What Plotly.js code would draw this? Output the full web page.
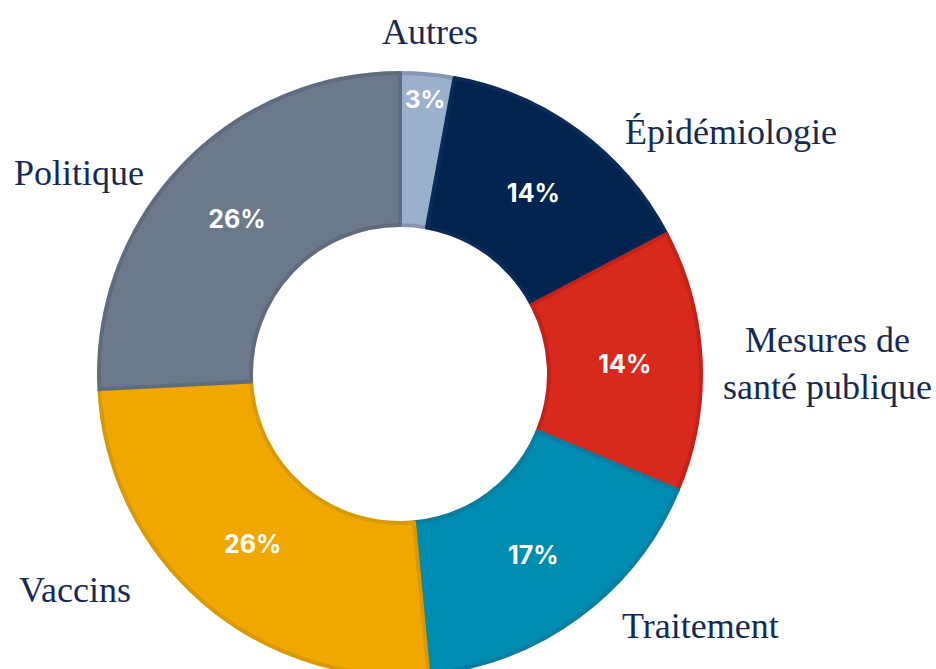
<!DOCTYPE html>
<html>
<head>
<meta charset="utf-8">
<script src="https://cdn.plot.ly/plotly-3.0.1.min.js"></script>
<style>
html,body{margin:0;padding:0;overflow:hidden;background:#fff;width:936px;height:669px;}
#chart{width:936px;height:748px;}
</style>
</head>
<body>
<div id="chart"></div>
<script>
const categories = ["Autres", "Épidémiologie", "Mesures de santé publique", "Traitement", "Vaccins", "Politique"];
const shares = [2.9, 14.4, 14.0, 17.2, 25.7, 25.8];
const fillColors = ["#9bb0cc", "#00234f", "#d8291d", "#008bb0", "#f0a800", "#6c798b"];
const edgeColors = ["#8597b2", "#0a2b57", "#c2221a", "#0a7da0", "#d99900", "#5f6c80"];

const W = 936, H = 748;
// label anchor positions in pixels (layout)
const labelPos = [
  [430, 32], [731, 132], [827, 364], [700, 626], [75, 590], [79, 173]
];

const trace = {
  type: "pie",
  labels: categories,
  values: shares,
  sort: false,
  direction: "clockwise",
  rotation: 0,
  hole: 0.495,
  domain: {x: [99 / W, 701 / W], y: [0, 1]},
  marker: {colors: fillColors, line: {color: edgeColors, width: 4}},
  textinfo: "percent",
  texttemplate: "%{percent:.0%}",
  textposition: "inside",
  insidetextorientation: "horizontal",
  insidetextfont: {family: "Inter, 'Open Sans', sans-serif", size: 25, color: "#ffffff", weight: 700},
  hoverinfo: "none",
  showlegend: false
};

const annotations = categories.map((c, i) => ({
  text: c === "Mesures de santé publique" ? "Mesures de<br>santé publique" : c,
  x: labelPos[i][0] / W,
  y: 1 - labelPos[i][1] / H,
  xref: "paper", yref: "paper",
  xanchor: "center", yanchor: "middle",
  showarrow: false,
  align: "center",
  font: {family: "'Liberation Serif', 'DejaVu Serif', serif", size: 36, color: "#142a55"}
}));

Plotly.newPlot("chart", [trace], {
  width: W, height: H,
  margin: {l: 0, r: 0, t: 0, b: 0},
  paper_bgcolor: "#ffffff",
  annotations: annotations,
  showlegend: false
}, {displayModeBar: false, staticPlot: true});
</script>
</body>
</html>
